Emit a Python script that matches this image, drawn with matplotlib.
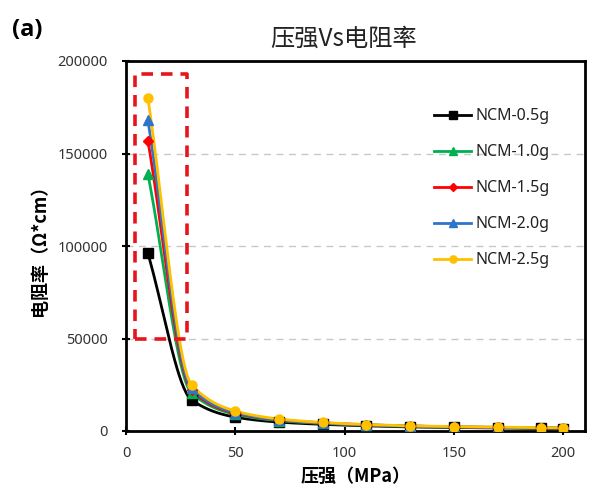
import numpy as np
import matplotlib
matplotlib.use('Agg')
import matplotlib.pyplot as plt
from matplotlib.lines import Line2D

plt.rcParams['font.family'] = ['Noto Sans', 'Noto Sans CJK SC', 'DejaVu Sans']

# pressure (MPa)
pressure = [10, 30, 50, 70, 90, 110, 130, 150, 170, 190, 200]
# resistivity (ohm*cm) for each NCM mass
ncm_05 = [96000, 16800, 7500, 4800, 3600, 2800, 2200, 1900, 1600, 1400, 1300]
ncm_10 = [139000, 20500, 9000, 5600, 4100, 3100, 2500, 2100, 1800, 1600, 1500]
ncm_15 = [157000, 22000, 9600, 6000, 4300, 3300, 2700, 2200, 1900, 1700, 1600]
ncm_20 = [168000, 23000, 10000, 6100, 4400, 3400, 2700, 2300, 2000, 1700, 1600]
ncm_25 = [180000, 25000, 10800, 6500, 4600, 3500, 2800, 2400, 2100, 1800, 1700]
labels = ['NCM-0.5g', 'NCM-1.0g', 'NCM-1.5g', 'NCM-2.0g', 'NCM-2.5g']
series = [ncm_05, ncm_10, ncm_15, ncm_20, ncm_25]

colors = ['#000000', '#00B050', '#FF0000', '#2E75C8', '#FFC000']
markers = ['s', '^', 'D', '^', 'o']
msizes = [7.5, 7, 5, 7, 6.5]

XMAX, YMAX = 210, 200000
# axes size in pixels, smoothing is done in screen space
SX, SY = 459.0, 370.0


def smooth(x, y, n=40):
    """Monotone cubic (Fritsch-Carlson) curve through the points, screen space."""
    px = np.asarray(x, float) / XMAX * SX
    py = np.asarray(y, float) / YMAX * SY
    h = np.diff(px)
    d = np.diff(py) / h
    m = np.zeros_like(py)
    m[0], m[-1] = d[0], d[-1]
    for i in range(1, len(py) - 1):
        if d[i - 1] * d[i] <= 0:
            m[i] = 0
        else:
            w1 = 2 * h[i] + h[i - 1]
            w2 = h[i] + 2 * h[i - 1]
            m[i] = (w1 + w2) / (w1 / d[i - 1] + w2 / d[i])
    xs, ys = [], []
    for i in range(len(px) - 1):
        t = np.linspace(0, 1, n)
        h00 = 2 * t ** 3 - 3 * t ** 2 + 1
        h10 = t ** 3 - 2 * t ** 2 + t
        h01 = -2 * t ** 3 + 3 * t ** 2
        h11 = t ** 3 - t ** 2
        yy = h00 * py[i] + h10 * h[i] * m[i] + h01 * py[i + 1] + h11 * h[i] * m[i + 1]
        xx = px[i] + t * h[i]
        xs.append(xx if i == 0 else xx[1:])
        ys.append(yy if i == 0 else yy[1:])
    return np.concatenate(xs) / SX * XMAX, np.concatenate(ys) / SY * YMAX


fig = plt.figure(figsize=(6.13, 5.0), dpi=100)
ax = fig.add_axes([126 / 613, 69 / 500, 459 / 613, 370 / 500])

for yv in [50000, 100000, 150000]:
    ax.axhline(yv, color='#C8C8C8', lw=1.0, ls=(0, (5, 4)), zorder=0)

for ys, c, m, ms in zip(series, colors, markers, msizes):
    sx, sy = smooth(pressure, ys)
    ax.plot(sx, sy, color=c, lw=2.0, zorder=2)
    ax.plot(pressure, ys, ls='none', marker=m, color=c, ms=ms, zorder=3)

# red dashed highlight box
ax.plot([4, 28, 28, 4, 4], [50000, 50000, 193000, 193000, 50000],
        color='#E8141B', lw=2.6, ls=(0, (3.2, 2.2)), zorder=4, clip_on=False)

ax.set_xlim(0, XMAX)
ax.set_ylim(0, YMAX)
ax.set_xticks([0, 50, 100, 150, 200])
ax.set_yticks([0, 50000, 100000, 150000, 200000])
ax.set_yticklabels(['0', '50000', '100000', '150000', '200000'])
ax.tick_params(direction='inout', length=6, width=1.5, labelsize=10.5,
               colors='black', labelcolor='#333333')
ax.tick_params(axis='x', pad=8)
ax.tick_params(axis='y', pad=10)
for sp in ax.spines.values():
    sp.set_linewidth(2.0)

ax.set_xlabel('压强（MPa）', fontsize=13, fontweight='bold',
              family=['Noto Sans CJK SC'], labelpad=4)
ax.set_ylabel('电阻率（Ω*cm）', fontsize=13, fontweight='bold',
              family=['Noto Sans CJK SC'], labelpad=6)
ax.set_title('压强Vs电阻率', fontsize=17.5, family=['Noto Sans CJK SC'],
             fontweight='light', pad=11, color='#222222', x=0.473)
fig.text(12 / 613, 1 - 30 / 500, '(a)', fontsize=17, fontweight='bold',
         family=['Open Sans', 'DejaVu Sans'], va='center', ha='left')

handles = [Line2D([], [], color=c, lw=2.0, marker=m, ms=ms * 0.8)
           for c, m, ms in zip(colors, markers, msizes)]
leg = ax.legend(handles, labels, loc='upper left',
                bbox_to_anchor=(428 / 613, 1 - 102 / 500),
                bbox_transform=fig.transFigure, frameon=False,
                fontsize=11.5, handlelength=2.3, handletextpad=0.3,
                labelspacing=1.25, borderaxespad=0)
for t in leg.get_texts():
    t.set_color('#222222')

fig.savefig('out.png', dpi=100)
